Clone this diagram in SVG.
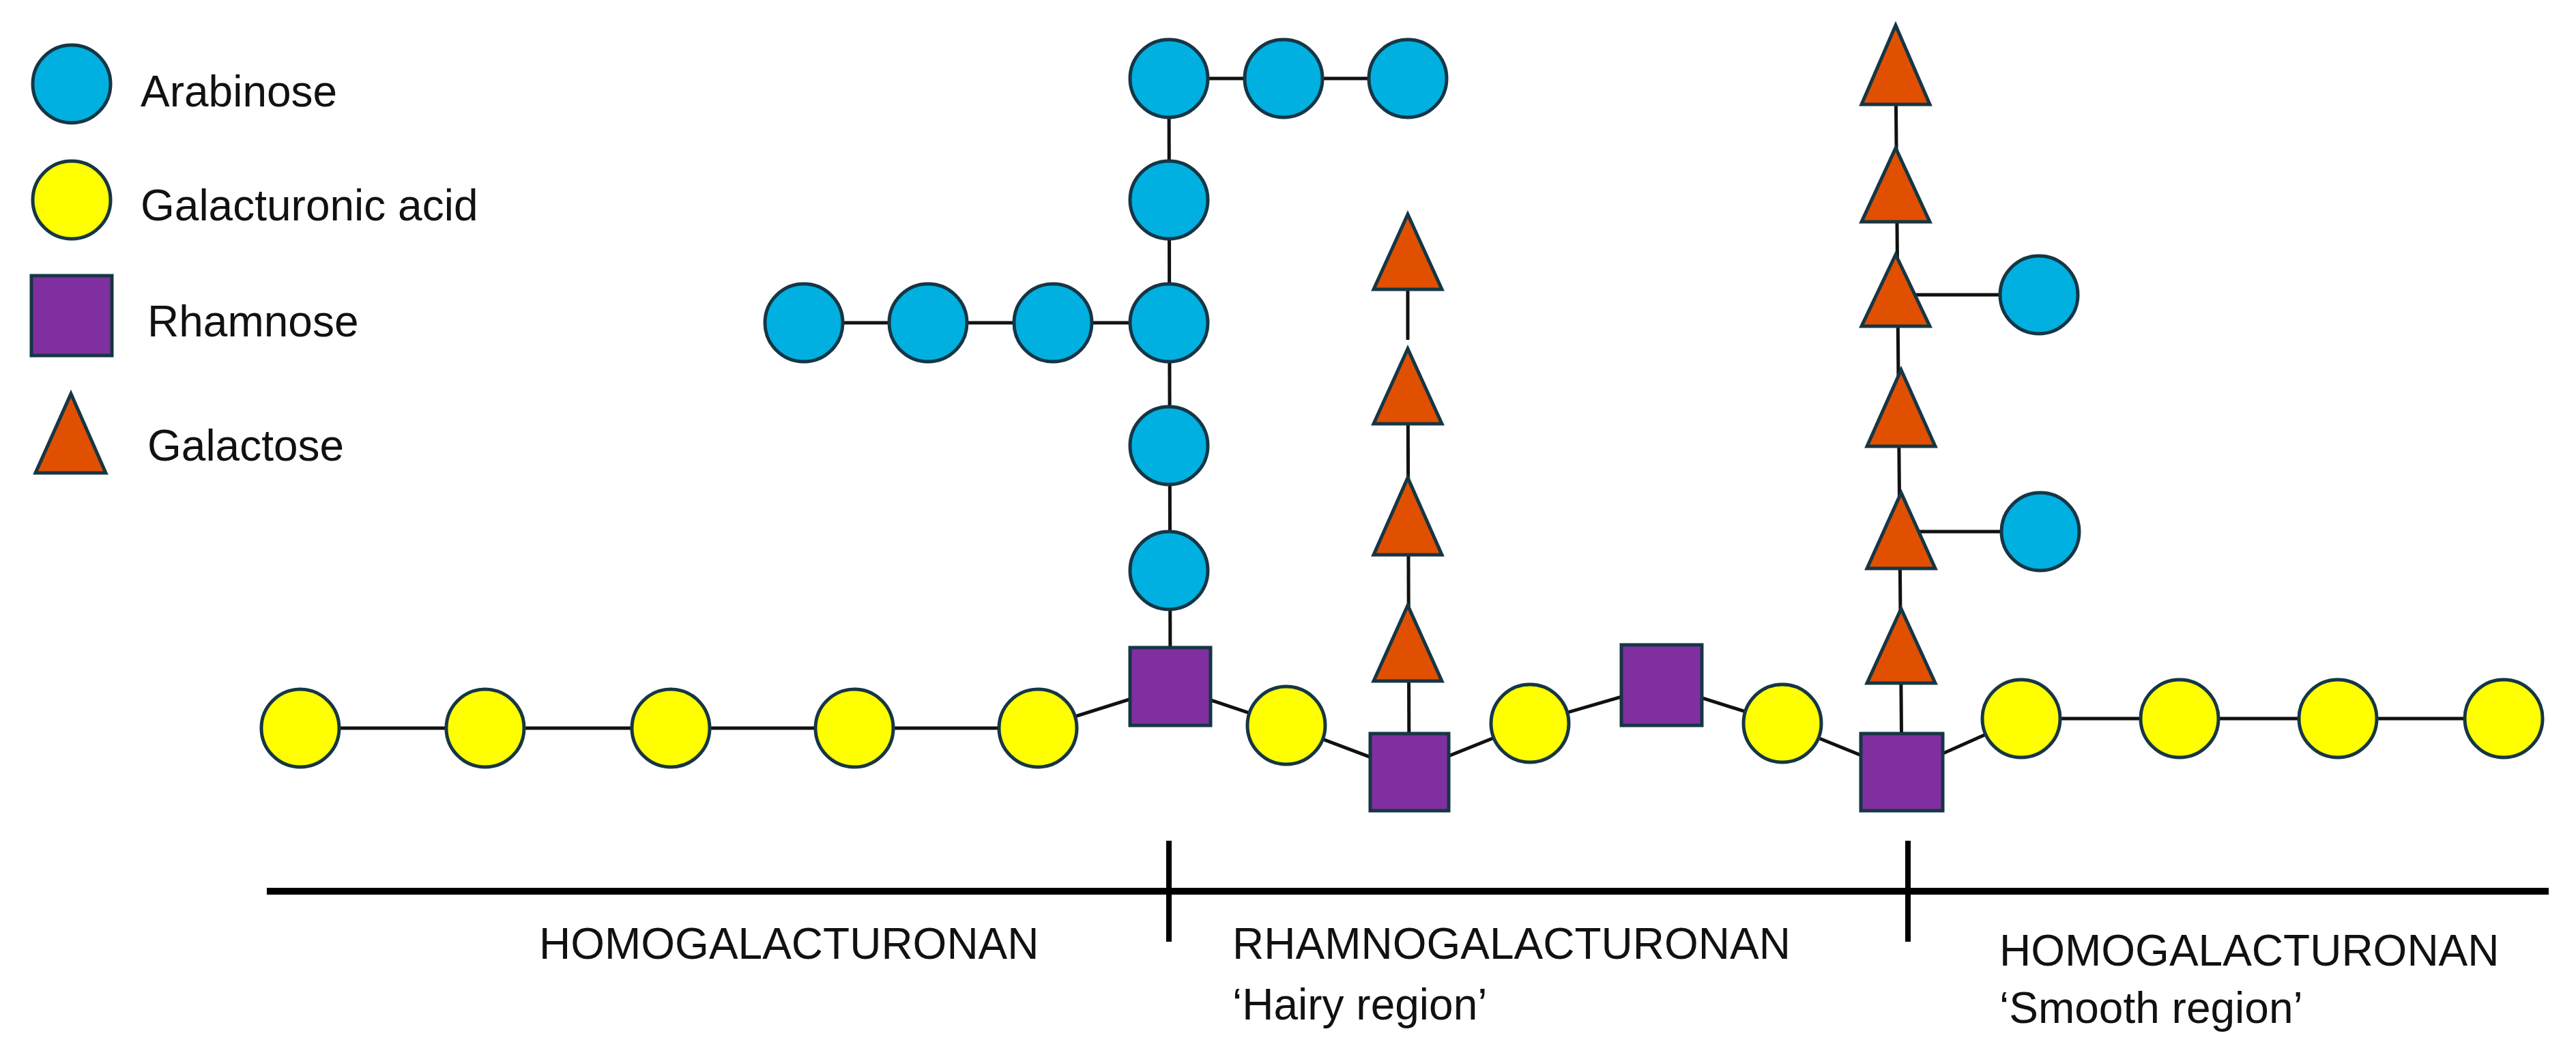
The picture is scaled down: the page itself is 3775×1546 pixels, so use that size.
<svg xmlns="http://www.w3.org/2000/svg" width="3775" height="1546" viewBox="0 0 3775 1546">
<style>
.a{fill:#00B0E0;stroke:#163645;stroke-width:5}
.g{fill:#FFFF00;stroke:#163645;stroke-width:5}
.r{fill:#7F2FA0;stroke:#163645;stroke-width:5}
.t{fill:#E05000;stroke:#163645;stroke-width:5}
.l{stroke:#111;stroke-width:5;fill:none}
text{font-family:"Liberation Sans",Arial,sans-serif;font-size:64px;fill:#111}
</style>
<rect width="3775" height="1546" fill="#fff"/>
<g id="connectors">
<polyline class="l" points="1713,115 2063,115"/>
<polyline class="l" points="1713,115 1715,1006"/>
<polyline class="l" points="1178,473 1713,473"/>
<polyline class="l" points="440,1067 1521,1067 1715,1006 1885,1063 2065,1131 2242,1060 2435,1004 2612,1060 2787,1131 2962,1053 3669,1053"/>
<line class="l" x1="2063" y1="424" x2="2063" y2="498"/>
<line class="l" x1="2063" y1="511" x2="2065" y2="1131"/>
<line class="l" x1="2778" y1="100" x2="2787" y2="1131"/>
<line class="l" x1="2790" y1="432" x2="2988" y2="432"/>
<line class="l" x1="2795" y1="779" x2="2990" y2="779"/>
<line stroke="#000" stroke-width="10" x1="391" y1="1306" x2="3735" y2="1306"/>
<line stroke="#000" stroke-width="8" x1="1713" y1="1232" x2="1713" y2="1380"/>
<line stroke="#000" stroke-width="8" x1="2796" y1="1232" x2="2796" y2="1380"/>
</g>
<g id="legend">
<circle class="a" cx="105" cy="123" r="57"/><text x="206" y="156">Arabinose</text>
<circle class="g" cx="105" cy="293" r="57"/><text x="206" y="323">Galacturonic acid</text>
<rect class="r" x="46" y="404" width="118" height="117"/><text x="216" y="493">Rhamnose</text>
<polygon class="t" points="104,577 155,693 52,693"/><text x="216" y="675">Galactose</text>
</g>
<g id="arabinose">
<circle class="a" cx="1713" cy="115" r="57"/><circle class="a" cx="1881" cy="115" r="57"/><circle class="a" cx="2063" cy="115" r="57"/>
<circle class="a" cx="1713" cy="293" r="57"/><circle class="a" cx="1713" cy="473" r="57"/><circle class="a" cx="1713" cy="653" r="57"/><circle class="a" cx="1713" cy="836" r="57"/>
<circle class="a" cx="1178" cy="473" r="57"/><circle class="a" cx="1360" cy="473" r="57"/><circle class="a" cx="1543" cy="473" r="57"/>
<circle class="a" cx="2988" cy="432" r="57"/><circle class="a" cx="2990" cy="779" r="57"/>
</g>
<g id="galacturonic">
<circle class="g" cx="440" cy="1067" r="57"/><circle class="g" cx="711" cy="1067" r="57"/><circle class="g" cx="983" cy="1067" r="57"/><circle class="g" cx="1252" cy="1067" r="57"/><circle class="g" cx="1521" cy="1067" r="57"/>
<circle class="g" cx="1885" cy="1063" r="57"/><circle class="g" cx="2242" cy="1060" r="57"/><circle class="g" cx="2612" cy="1060" r="57"/>
<circle class="g" cx="2962" cy="1053" r="57"/><circle class="g" cx="3194" cy="1053" r="57"/><circle class="g" cx="3426" cy="1053" r="57"/><circle class="g" cx="3669" cy="1053" r="57"/>
</g>
<g id="rhamnose">
<rect class="r" x="1656" y="949" width="118" height="114"/>
<rect class="r" x="2008" y="1075" width="115" height="113"/>
<rect class="r" x="2376" y="945" width="118" height="118"/>
<rect class="r" x="2727" y="1075" width="120" height="113"/>
</g>
<g id="galactose">
<polygon class="t" points="2063,314 2113,424 2013,424"/>
<polygon class="t" points="2063,511 2113,621 2013,621"/>
<polygon class="t" points="2063,700 2113,813 2013,813"/>
<polygon class="t" points="2063,887 2113,998 2013,998"/>
<polygon class="t" points="2778,37 2828,153 2728,153"/>
<polygon class="t" points="2778,217 2828,325 2728,325"/>
<polygon class="t" points="2778,373 2828,478 2728,478"/>
<polygon class="t" points="2786,542 2836,654 2736,654"/>
<polygon class="t" points="2786,722 2836,833 2736,833"/>
<polygon class="t" points="2786,892 2836,1001 2736,1001"/>
</g>
<g id="labels">
<text x="790" y="1405">HOMOGALACTURONAN</text>
<text x="1806" y="1405">RHAMNOGALACTURONAN</text>
<text x="1806" y="1494">‘Hairy region’</text>
<text x="2930" y="1415">HOMOGALACTURONAN</text>
<text x="2930" y="1499">‘Smooth region’</text>
</g>
</svg>
